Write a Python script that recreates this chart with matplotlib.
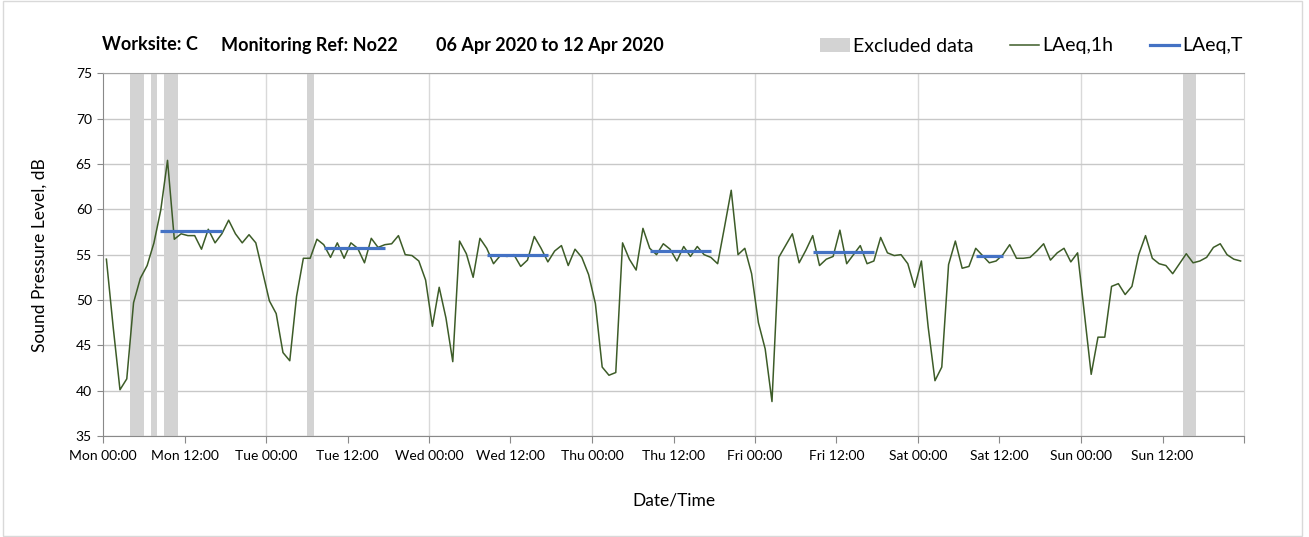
import numpy as np
import matplotlib.pyplot as plt
from matplotlib.patches import Patch, Rectangle
from matplotlib.lines import Line2D

plt.rcParams['font.family'] = ['Lato', 'DejaVu Sans']

# hourly LAeq,1h values, Mon 00:00 -> Sun 23:00
laeq_1h = [
    54.5, 47.0, 40.1, 41.3, 49.7, 52.4, 53.8, 56.3, 59.9, 65.4, 56.7, 57.3,
    57.1, 57.1, 55.6, 57.8, 56.3, 57.3, 58.8, 57.3, 56.3, 57.2, 56.3, 53.1,
    49.9, 48.5, 44.2, 43.3, 50.4, 54.6, 54.6, 56.7, 56.1, 54.7, 56.3, 54.6,
    56.3, 55.7, 54.1, 56.8, 55.8, 56.1, 56.2, 57.1, 55.0, 54.9, 54.3, 52.2,
    47.1, 51.4, 48.0, 43.2, 56.5, 55.1, 52.5, 56.8, 55.7, 54.0, 54.9, 54.8,
    55.0, 53.7, 54.4, 57.0, 55.7, 54.2, 55.4, 56.0, 53.8, 55.6, 54.7, 52.8,
    49.6, 42.6, 41.7, 42.0, 56.3, 54.5, 53.3, 57.9, 55.7, 55.0, 56.2, 55.6,
    54.3, 55.9, 54.8, 55.9, 55.0, 54.7, 54.0, 58.0, 62.1, 55.0, 55.7, 52.9,
    47.5, 44.6, 38.8, 54.7, 56.0, 57.3, 54.1, 55.5, 57.1, 53.8, 54.5, 54.8,
    57.7, 54.0, 55.0, 56.0, 54.0, 54.3, 56.9, 55.2, 54.9, 55.0, 54.0, 51.4,
    54.3, 47.0, 41.1, 42.6, 53.9, 56.5, 53.5, 53.7, 55.7, 54.9, 54.1, 54.3,
    55.0, 56.1, 54.6, 54.6, 54.7, 55.4, 56.2, 54.4, 55.2, 55.7, 54.2, 55.2,
    48.5, 41.8, 45.9, 45.9, 51.5, 51.8, 50.6, 51.5, 55.0, 57.1, 54.6, 54.0,
    53.8, 52.9, 54.0, 55.1, 54.1, 54.3, 54.7, 55.8, 56.2, 55.0, 54.5, 54.3,
]
hours = np.arange(len(laeq_1h)) + 0.5

# excluded periods (hours from Mon 00:00)
excl_start = [4, 7, 9, 30, 159]
excl_end = [6, 8, 11, 31, 161]

# LAeq,T daytime periods
laeqT_start = [8.4, 32.5, 56.5, 80.5, 104.5, 128.5]
laeqT_end = [17.5, 41.5, 65.5, 89.5, 113.5, 132.5]
laeqT_val = [57.6, 55.7, 55.0, 55.4, 55.3, 54.8]

days = ['Mon', 'Tue', 'Wed', 'Thu', 'Fri', 'Sat', 'Sun']
tick_labels = [d + ' ' + t for d in days for t in ('00:00', '12:00')] + ['']

green = '#3d5c28'
blue = '#4472c4'
band = '#d3d3d3'
grid = '#c8c8c8'

fig = plt.figure(figsize=(13.09, 5.37), dpi=100)
ax = fig.add_axes([103 / 1309, 1 - 436 / 537, 1141 / 1309, (436 - 73.3) / 537])

for s, e in zip(excl_start, excl_end):
    ax.axvspan(s, e, color=band, lw=0, zorder=1)

for d in range(24, 168, 24):
    ax.axvline(d, color='#d9d9d9', lw=1.0, zorder=0.5)
ax.set_yticks(range(35, 80, 5))
ax.yaxis.grid(True, color=grid, lw=1.0)
ax.set_axisbelow(True)

ax.plot(hours, laeq_1h, color=green, lw=1.1, zorder=3)
ax.hlines(laeqT_val, laeqT_start, laeqT_end, color=blue, lw=2.3, zorder=4)

ax.set_xlim(0, 168)
ax.set_ylim(35, 75)
ax.set_xticks(np.arange(0, 169, 12))
ax.set_xticklabels(tick_labels)
ax.tick_params(axis='x', labelsize=10, length=5, color='#898989', pad=5)
ax.tick_params(axis='y', labelsize=10, length=4, color='#898989', pad=4)

for side in ['left', 'bottom']:
    ax.spines[side].set_color('#898989')
ax.spines['top'].set_color('#a6a6a6')
ax.spines['right'].set_color('#d9d9d9')

ax.set_ylabel('Sound Pressure Level, dB', fontsize=12.5, labelpad=20)
ax.set_xlabel('Date/Time', fontsize=12.5, labelpad=22)

fig.text(102 / 1309, 1 - 45 / 537, 'Worksite: C', fontsize=13, weight='bold', va='center')
fig.text(221 / 1309, 1 - 45 / 537, 'Monitoring Ref: No22', fontsize=13, weight='bold', va='center')
fig.text(436 / 1309, 1 - 45 / 537, '06 Apr 2020 to 12 Apr 2020', fontsize=13, weight='bold', va='center')

handles = [Patch(facecolor=band, edgecolor='none'),
           Line2D([], [], color=green, lw=1.1),
           Line2D([], [], color=blue, lw=2.3)]
fig.legend(handles, ['Excluded data', 'LAeq,1h', 'LAeq,T'], ncol=3, frameon=False,
           loc='center right', bbox_to_anchor=(1260 / 1309, 1 - 46 / 537),
           fontsize=14, handlelength=1.5, handletextpad=0.15, columnspacing=1.9)

fig.add_artist(Rectangle((3 / 1309, 0.002), 1299 / 1309, 0.996, transform=fig.transFigure,
                         fill=False, edgecolor='#d9d9d9', lw=1.0))

fig.savefig('out.png', dpi=100)
